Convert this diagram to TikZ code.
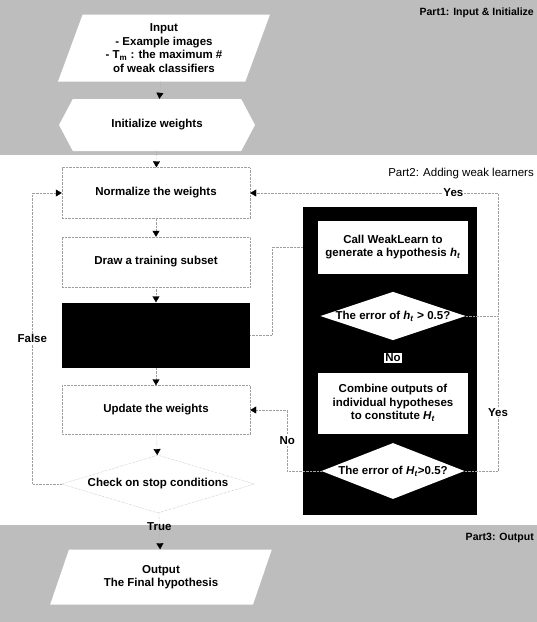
\documentclass[tikz,border=0pt]{standalone}
\usepackage{fontspec}
\setmainfont{Liberation Sans}
\usetikzlibrary{positioning,arrows.meta,shapes.geometric,shapes.symbols}
\definecolor{band}{gray}{0.74}
\definecolor{link}{gray}{0.62}

\tikzset{
  txt/.style={font=\fontsize{11.5}{13.5}\selectfont\bfseries, align=center},
  lbl/.style={txt, fill=white, inner sep=1pt},
  partlbl/.style={font=\fontsize{10.5}{12}\selectfont\bfseries, anchor=east, inner sep=0pt},
  stepbox/.style={txt, draw=link, densely dotted, fill=white, minimum width=188pt},
  slantbox/.style={txt, trapezium, trapezium stretches=true, fill=white, inner sep=0pt},
  whitebox/.style={txt, fill=white, minimum width=150pt},
  whitediam/.style={txt, diamond, aspect=3, fill=white, inner sep=0pt},
  flow/.style={draw=link, densely dotted, -{Triangle[length=6pt,width=7pt,color=black]}}
}

\begin{document}
\begin{tikzpicture}[x=1pt,y=-1pt]
  \useasboundingbox (0,0) rectangle (537,622);
  % shaded parts
  \fill[band] (0,0) rectangle (537,155);
  \fill[band] (0,525) rectangle (537,622);
  \node[partlbl] (part1) at (534,13) {Part1: Input \& Initialize};
  \node[partlbl, font=\fontsize{11.5}{13}\selectfont] (part2) at (534,174) {Part2: Adding weak learners};
  \node[partlbl] (part3) at (534,538) {Part3: Output};

  % part 1
  \node[slantbox, trapezium left angle=70, trapezium right angle=110,
        minimum width=212pt, minimum height=67pt] (input) at (164,48)
        {Input\\- Example images\\- T\textsubscript{m} : the maximum \#\\of weak classifiers};
  \node[txt, signal, signal to=west and east, signal pointer angle=124, fill=white,
        minimum width=196pt, minimum height=52pt, inner sep=0pt] (init) at (157,125) {Initialize weights};

  % part 2, left column
  \node[stepbox, minimum height=51pt] (norm) at (156,193) {Normalize the weights};
  \node[stepbox, minimum height=50pt] (subset) at (156,262) {Draw a training subset};
  \node[stepbox, draw=none, fill=black, minimum height=65pt] (train) at (156,335) {};
  \node[stepbox, minimum height=49pt] (update) at (156,410) {Update the weights};
  \node[txt, diamond, draw=link, densely dotted, fill=white, inner sep=0pt, aspect=3.3,
        minimum width=193pt, minimum height=58pt] (check) at (158,484) {Check on stop conditions};

  % part 2, weak learner panel
  \node[fill=black, minimum width=174pt, minimum height=308pt] (panel) at (390,361) {};
  \node[whitebox, minimum height=53pt] (box1) at (393,247)
        {Call WeakLearn to\\generate a hypothesis \textit{h}\textsubscript{\textit{t}}};
  \node[whitediam, minimum width=143pt, minimum height=48pt] (dia1) at (393,316)
        {The error of \textit{h}\textsubscript{\textit{t}} {\fontsize{12}{12}\selectfont >} 0.5?};
  \node[lbl] (nolbl) at (393,358) {No};
  \node[whitebox, minimum height=61pt] (box2) at (393,403)
        {Combine outputs of\\individual hypotheses\\to constitute \textit{H}\textsubscript{\textit{t}}};
  \node[whitediam, minimum width=143pt, minimum height=56pt] (dia2) at (393,471)
        {The error of \textit{H}\textsubscript{\textit{t}}>0.5?};

  % part 3
  \node[slantbox, trapezium left angle=64, trapezium right angle=116,
        minimum width=222pt, minimum height=55pt] (output) at (161,577)
        {Output\\The Final hypothesis};

  % connectors
  \coordinate (rgt) at (498,316);
  \draw[flow] (input) -- (init);
  \draw[flow] (init) -- (norm);
  \draw[flow] (norm) -- (subset);
  \draw[flow] (subset) -- (train);
  \draw[flow] (train) -- (update);
  \draw[flow] (update) -- (check);
  \draw[flow] (check) -- node[txt, pos=0.38] {True} (output);
  \draw[flow] (check.west) -- ++(-29,0) |- node[lbl, pos=0.25] {False} (norm.west);
  \draw[flow] (dia1.east) -- (rgt) |- node[lbl, pos=0.59] {Yes} (norm.east);
  \draw[draw=link, densely dotted] (dia2.east) -| node[lbl, pos=0.69] {Yes} (rgt);
  \draw[flow] (dia2.west) -- ++(-34,0) |- node[lbl, pos=0.25] {No} (update.east);
  \draw[draw=link, densely dotted] (train.east) -- ++(22,0) |- (box1 -| panel.west);
\end{tikzpicture}
\end{document}
